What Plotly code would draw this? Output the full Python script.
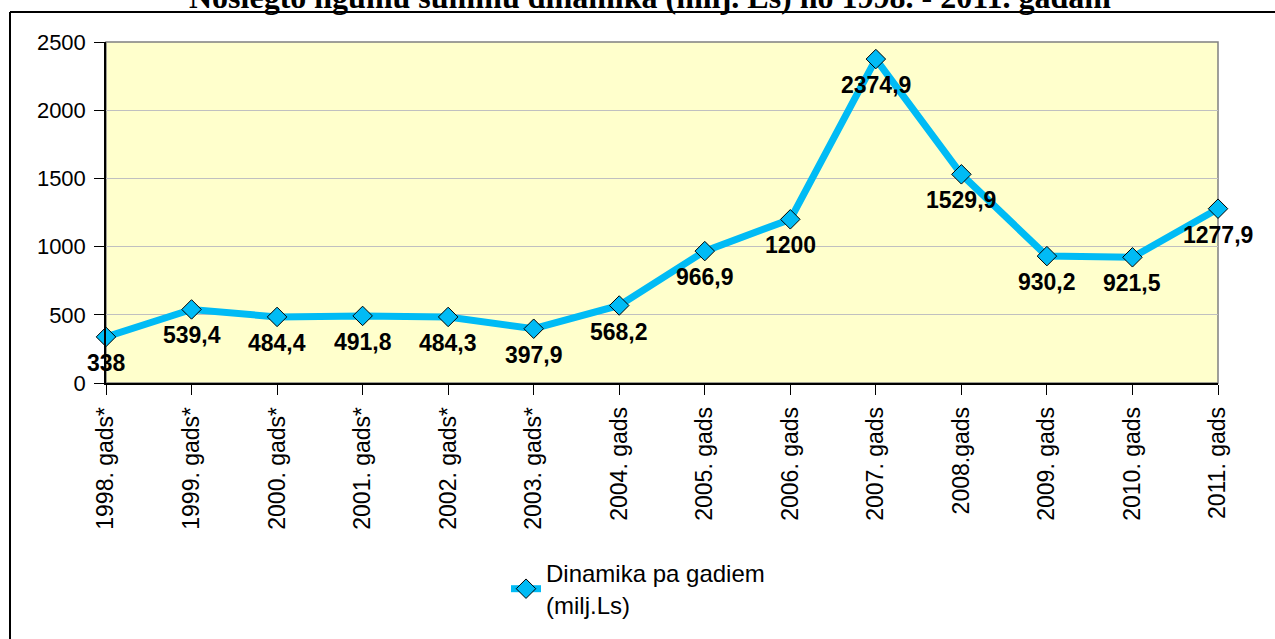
import plotly.graph_objects as go

categories = ["1998. gads*", "1999. gads*", "2000. gads*", "2001. gads*", "2002. gads*",
              "2003. gads*", "2004. gads", "2005. gads", "2006. gads", "2007. gads",
              "2008.gads", "2009. gads", "2010. gads", "2011. gads"]
values = [338, 539.4, 484.4, 491.8, 484.3, 397.9, 568.2, 966.9, 1200, 2374.9,
          1529.9, 930.2, 921.5, 1277.9]
y_ticks = [0, 500, 1000, 1500, 2000, 2500]
series_name = "Dinamika pa gadiem<br>(milj.Ls)"
title_text = "Noslēgto līgumu summu dinamika (milj. Ls) no 1998. - 2011. gadam"

W, H = 1275, 639
L, R, T, B = 106, 1218, 42, 383

def px_x(p):
    return (p - L) / (R - L)

def px_y(p):
    return (B - p) / (B - T)

LINE = "#00BBF5"
FONT = "Liberation Sans, Arial, sans-serif"

fig = go.Figure()
fig.add_trace(go.Scatter(
    x=categories, y=values, mode="lines+markers", name=series_name,
    line=dict(color=LINE, width=7),
    marker=dict(symbol="diamond", size=15, color=LINE, line=dict(color="black", width=1)),
    cliponaxis=False,
))

for c, v in zip(categories, values):
    fig.add_annotation(x=c, y=v, text=f"{v:g}".replace(".", ","), showarrow=False,
                       yshift=-26, font=dict(family=FONT, size=23, color="black", weight="bold"))

# title (clipped at top as in reference)
fig.add_annotation(xref="paper", yref="paper", x=px_x(650), y=px_y(-3), text=title_text,
                   showarrow=False, xanchor="center", yanchor="middle",
                   font=dict(family="Liberation Serif, Times New Roman, serif", size=32,
                             color="black", weight="bold"))

# plot area border (grey)
fig.add_shape(type="rect", xref="paper", yref="paper", x0=0, x1=1, y0=0, y1=1,
              line=dict(color="#808080", width=1.5), layer="below")
# outer frame lines
fig.add_shape(type="line", xref="paper", yref="paper", x0=px_x(10), x1=px_x(1290),
              y0=px_y(12), y1=px_y(12), line=dict(color="black", width=2))
fig.add_shape(type="line", xref="paper", yref="paper", x0=px_x(10), x1=px_x(10),
              y0=px_y(12), y1=px_y(660), line=dict(color="black", width=2))

fig.update_layout(
    width=W, height=H,
    margin=dict(l=L, r=W - R, t=T, b=H - B),
    paper_bgcolor="white", plot_bgcolor="#FFFFCC",
    font=dict(family=FONT, size=22, color="black"),
    showlegend=True,
    legend=dict(x=px_x(506), y=px_y(551), xanchor="left", yanchor="top",
                font=dict(family=FONT, size=24, color="black"), bgcolor="rgba(0,0,0,0)",
                itemwidth=30),
)
fig.update_xaxes(
    type="category", range=[0, len(categories) - 1], tickangle=-90,
    showline=True, linecolor="black", linewidth=1.5,
    ticks="outside", ticklen=10, tickcolor="black", showgrid=False,
    tickfont=dict(family=FONT, size=23), zeroline=False, ticklabelstandoff=3,
)
fig.update_yaxes(
    range=[0, 2500], tickvals=y_ticks, showline=True, linecolor="black", linewidth=1.5,
    ticks="outside", ticklen=10, tickcolor="black",
    showgrid=True, gridcolor="#C0C0C0", gridwidth=1, zeroline=False,
    tickfont=dict(family=FONT, size=22), ticklabelstandoff=4,
)

fig.write_html("out.html", config={"displayModeBar": False},
               post_script="document.body.style.margin='0';")
